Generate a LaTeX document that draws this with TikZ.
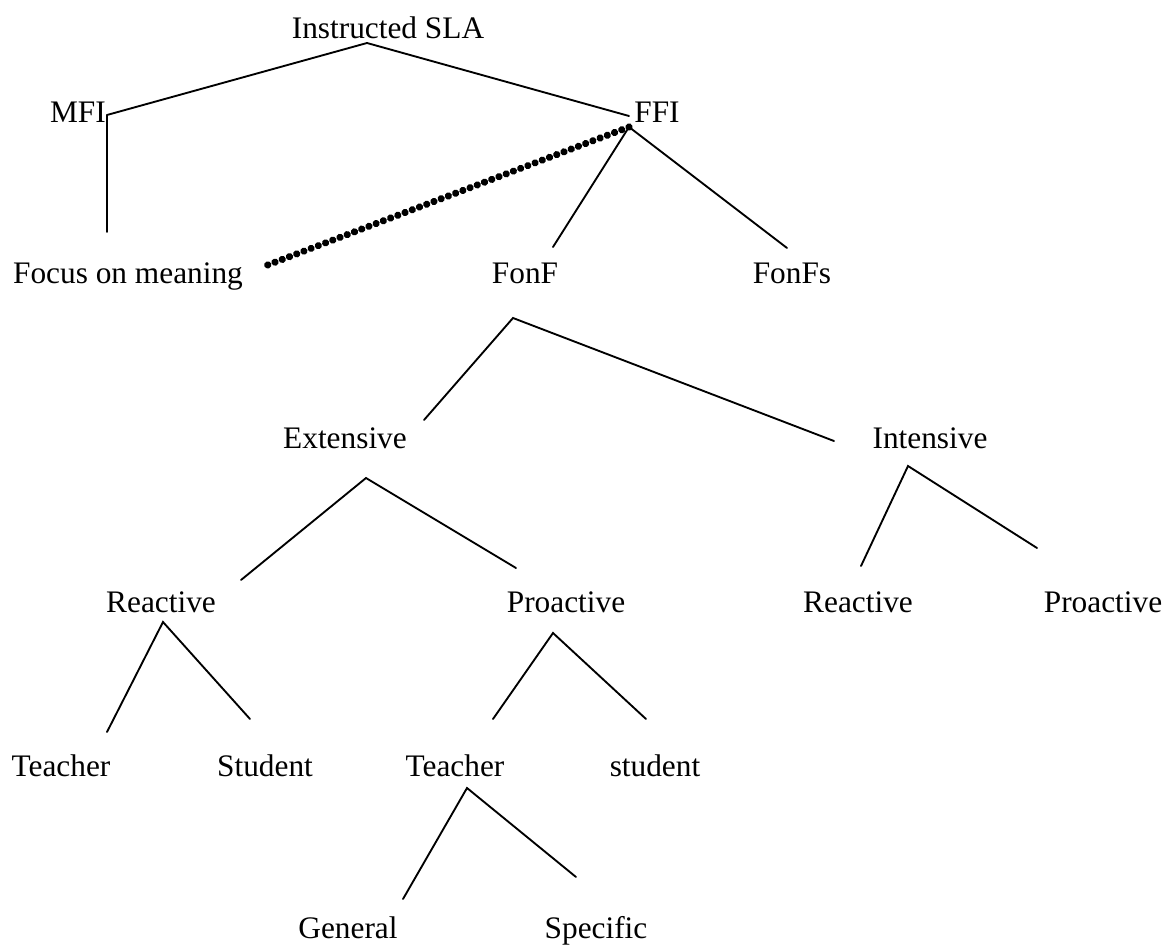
\documentclass[tikz,border=0pt]{standalone}
\usepackage{fontspec}
\setmainfont{Liberation Serif}
\usetikzlibrary{decorations.markings}
\begin{document}
\begin{tikzpicture}[x=0.75pt,y=-0.75pt,
  lbl/.style={anchor=base,inner sep=0pt,font=\fontsize{23.5}{28}\selectfont},
  branch/.style={line width=1.4pt,line cap=round},
  dotline/.style={decoration={markings,mark=between positions 0 and 1 step 5.8pt with {\fill circle (2.7pt);}},
    postaction={decorate}}]
\useasboundingbox (0,0) rectangle (1170,945);
% labels
\node[lbl] (isla) at (388,39) {Instructed SLA};
\node[lbl] (mfi) at (78,123) {MFI};
\node[lbl] (ffi) at (657,123) {FFI};
\node[lbl] (fom) at (128,283) {Focus on meaning};
\node[lbl] (fonf) at (525,283) {FonF};
\node[lbl] (fonfs) at (792,283) {FonFs};
\node[lbl] (ext) at (345,448) {Extensive};
\node[lbl] (int) at (930,448) {Intensive};
\node[lbl] (rea1) at (161,612) {Reactive};
\node[lbl] (pro1) at (566,612) {Proactive};
\node[lbl] (rea2) at (858,612) {Reactive};
\node[lbl] (pro2) at (1103,612) {Proactive};
\node[lbl] (tea1) at (61,776) {Teacher};
\node[lbl] (stu1) at (265,776) {Student};
\node[lbl] (tea2) at (455,776) {Teacher};
\node[lbl] (stu2) at (655,776) {student};
\node[lbl] (gen) at (348,938) {General};
\node[lbl] (spe) at (596,938) {Specific};
% line end points
\coordinate (a0) at (367,43);
\coordinate (a1) at (107,115);
\coordinate (a2) at (629,116);
\coordinate (m1) at (107,232);
\coordinate (f0) at (629,127);
\coordinate (d1) at (265,266);
\coordinate (f1) at (553,247);
\coordinate (f2) at (787,248);
\coordinate (b0) at (513,318);
\coordinate (b1) at (424,420);
\coordinate (b2) at (834,441);
\coordinate (e0) at (366,478);
\coordinate (e1) at (241,580);
\coordinate (e2) at (516,568);
\coordinate (i0) at (908,466);
\coordinate (i1) at (861,566);
\coordinate (i2) at (1037,548);
\coordinate (r0) at (163,622);
\coordinate (r1) at (107,732);
\coordinate (r2) at (250,719);
\coordinate (p0) at (553,633);
\coordinate (p1) at (493,719);
\coordinate (p2) at (646,719);
\coordinate (t0) at (467,788);
\coordinate (t1) at (403,899);
\coordinate (t2) at (576,877);
% branches
\draw[branch] (a1) -- (a0) -- (a2);
\draw[branch] (a1) -- (m1);
\path[dotline] (f0) -- (d1);
\draw[branch] (f1) -- (f0) -- (f2);
\draw[branch] (b1) -- (b0) -- (b2);
\draw[branch] (e1) -- (e0) -- (e2);
\draw[branch] (i1) -- (i0) -- (i2);
\draw[branch] (r1) -- (r0) -- (r2);
\draw[branch] (p1) -- (p0) -- (p2);
\draw[branch] (t1) -- (t0) -- (t2);
\end{tikzpicture}
\end{document}
